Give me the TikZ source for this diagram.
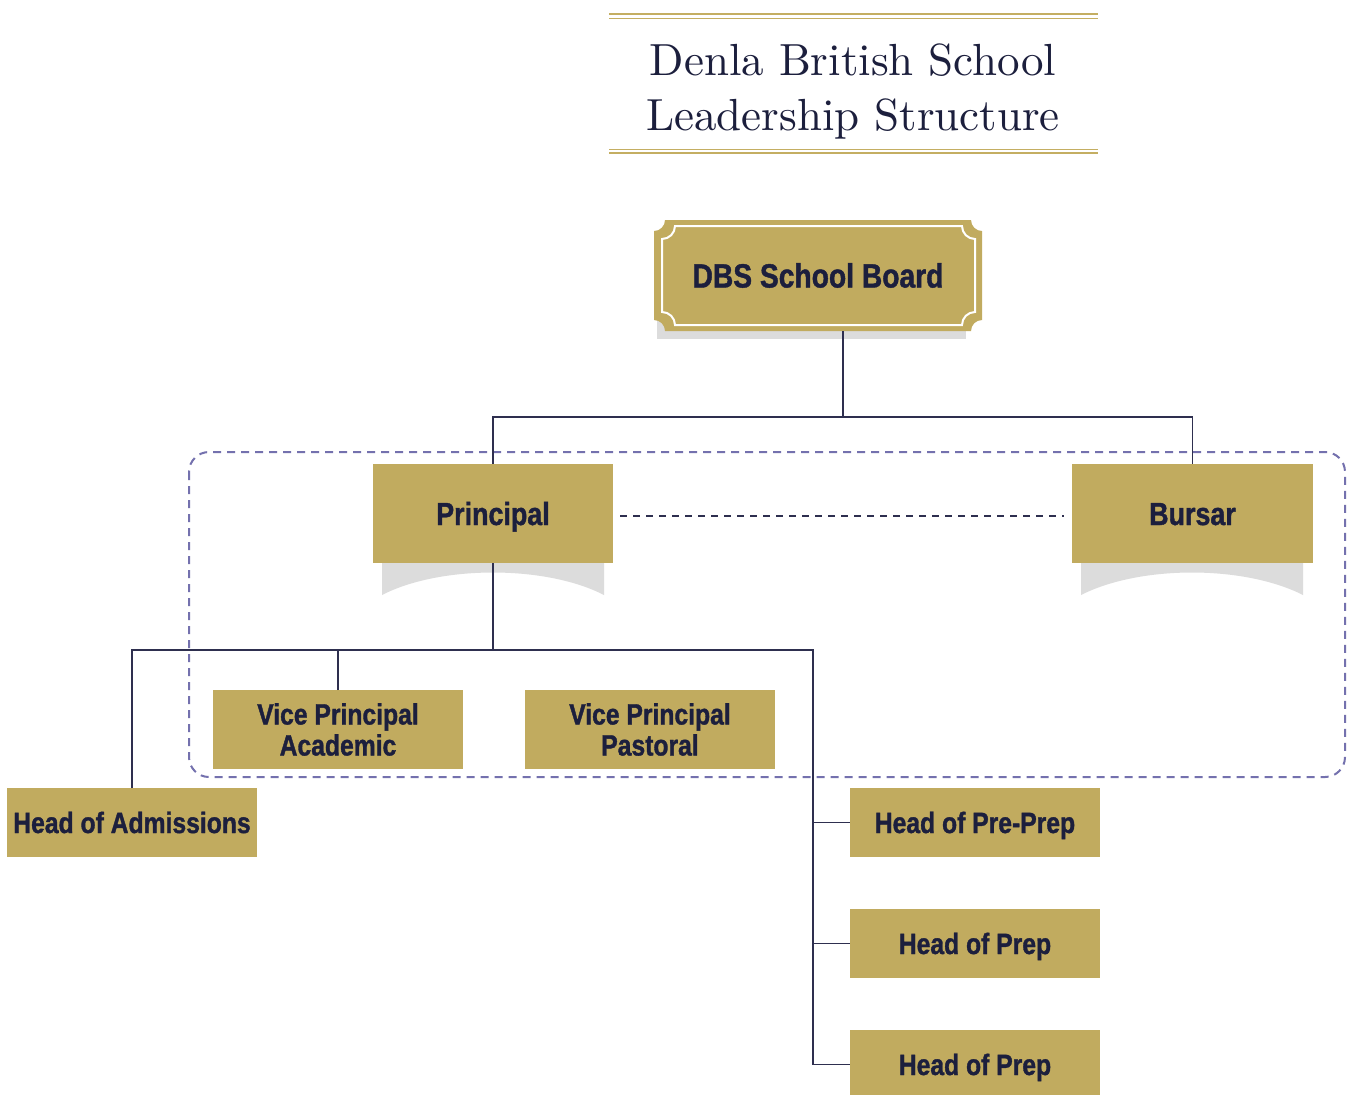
\documentclass[tikz,border=0pt]{standalone}
\usepackage{fontspec}
\newfontfamily\boxfont[FakeStretch=0.84,FakeBold=1.2]{Liberation Sans}
\newfontfamily\titlefont{lmroman10-regular.otf}
\definecolor{gold}{HTML}{C1AB5F}
\definecolor{navy}{HTML}{1C1F3D}
\definecolor{linec}{HTML}{2E2F4F}
\definecolor{purp}{HTML}{7471AE}
\definecolor{shadowgray}{HTML}{DCDCDC}
\definecolor{rulegold}{HTML}{C4AE62}
\tikzset{
  title/.style={anchor=base, inner sep=0pt, text=navy, font=\titlefont\fontsize{22.5}{27}\selectfont},
  box/.style={fill=gold, inner sep=0pt, outer sep=0pt, text=navy, align=center,
    font=\boxfont\bfseries\fontsize{14.7}{15.5}\selectfont, text height=10.5pt, text depth=0pt},
  hbox/.style={box, minimum width=125pt, minimum height=34.5pt},
  vpbox/.style={box, minimum width=125pt, minimum height=39.5pt, text height=26pt, text depth=-2.8pt},
  bigbox/.style={box, minimum width=120pt, minimum height=49.5pt, text height=11.5pt,
    font=\boxfont\bfseries\fontsize{16}{18}\selectfont},
  conn/.style={draw=linec, line width=0.75pt},
  groupline/.style={draw=purp, line width=1pt, dash pattern=on 4pt off 3pt, rounded corners=10pt},
  linkline/.style={draw=linec, line width=0.65pt, dash pattern=on 3.5pt off 3pt}
}
\begin{document}
\begin{tikzpicture}[x=0.5pt,y=-0.5pt]
\useasboundingbox[fill=white] (0,0) rectangle (1354,1094);
% title rules
\draw[rulegold, line width=1.25pt] (609,14) -- (1098,14);
\draw[rulegold, line width=0.5pt] (609,18) -- (1098,18);
\draw[rulegold, line width=0.5pt] (609,149.5) -- (1098,149.5);
\draw[rulegold, line width=1.25pt] (609,153) -- (1098,153);
\node[title] (t1) at (853,75) {Denla British School};
\node[title] (t2) at (853,130) {Leadership Structure};
% shadows
\fill[shadowgray] (657,300) rectangle (966,339);
\fill[shadowgray] (382,563) -- (382,595) .. controls (440,565) and (546,565) .. (604,595) -- (604,563) -- cycle;
\fill[shadowgray] (1081,563) -- (1081,595) .. controls (1140,565) and (1244,565) .. (1303,595) -- (1303,563) -- cycle;
% group outline
\draw[groupline] (189,452) rectangle (1345,777);
% board plaque
\fill[gold] (665,220) -- (971,220) arc[start angle=180,end angle=270,radius=5.5pt]
  -- (982,320) arc[start angle=90,end angle=180,radius=5.5pt]
  -- (665,331) arc[start angle=0,end angle=90,radius=5.5pt]
  -- (654,231) arc[start angle=270,end angle=360,radius=5.5pt] -- cycle;
\draw[white, line width=1pt] (675,226) -- (962,226) arc[start angle=180,end angle=270,radius=6.5pt]
  -- (975,312) arc[start angle=90,end angle=180,radius=6.5pt]
  -- (675,325) arc[start angle=0,end angle=90,radius=6.5pt]
  -- (662,239) arc[start angle=270,end angle=360,radius=6.5pt] -- cycle;
\node[box, fill=none, minimum width=164pt, minimum height=55.5pt, text height=12pt,
  font=\boxfont\bfseries\fontsize{16.8}{18}\selectfont] (board) at (818,275.5) {DBS School Board};
% boxes
\node[bigbox] (principal) at (493,513.5) {Principal};
\node[bigbox, minimum width=120.5pt] (bursar) at (1192.5,513.5) {Bursar};
\node[hbox] (admissions) at (132,822.5) {Head of Admissions};
\node[vpbox] (vpa) at (338,729.5) {Vice Principal\\Academic};
\node[vpbox] (vpp) at (650,729.5) {Vice Principal\\Pastoral};
\node[hbox] (preprep) at (975,822.5) {Head of Pre-Prep};
\node[hbox] (prep) at (975,943.5) {Head of Prep};
\node[hbox] (prep2) at (975,1064.5) {Head of Prep};
% connectors
\draw[conn] ([xshift=12.5pt]board.south) -- ++(0,86) coordinate (hub1);
\draw[conn] (principal.north) |- (hub1) -| (bursar.north);
\draw[linkline, shorten <=3.5pt, shorten >=4pt] ([yshift=-1.25pt]principal.east) -- ([yshift=-1.25pt]bursar.west);
\draw[conn] (principal.south) -- ++(0,87) coordinate (hub2);
\draw[conn] (admissions.north) |- (hub2);
\coordinate (spine) at (813,650);
\draw[conn] (hub2) -- (spine) |- (prep2.west);
\draw[conn] (vpa.north) -- (vpa.north |- hub2);
\draw[conn] (spine |- preprep.west) -- (preprep.west);
\draw[conn] (spine |- prep.west) -- (prep.west);
\end{tikzpicture}
\end{document}
